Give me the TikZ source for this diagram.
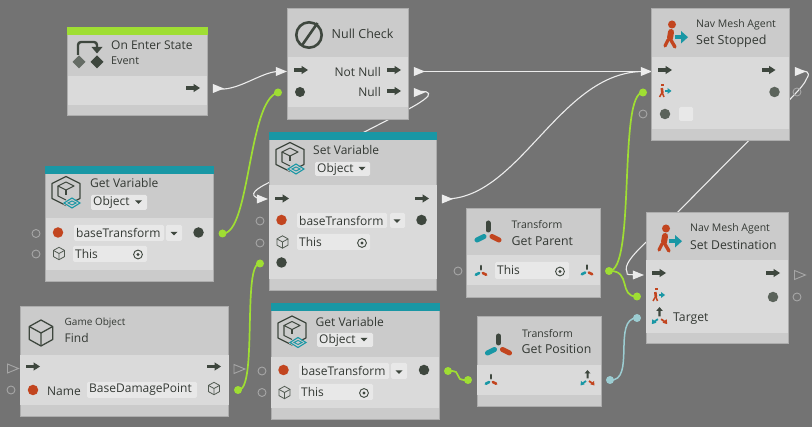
\documentclass[tikz,border=0pt]{standalone}
\usepackage{fontspec}
\setmainfont{Open Sans}
\usetikzlibrary{fit,shapes.geometric}
\definecolor{bgc}{HTML}{737373}
\definecolor{headc}{HTML}{CBCBCB}
\definecolor{bodyc}{HTML}{DADADA}
\definecolor{edgec}{HTML}{ADADAD}
\definecolor{fieldc}{HTML}{E8E8E8}
\definecolor{limec}{HTML}{9FDE33}
\definecolor{tealc}{HTML}{1997A5}
\definecolor{darkc}{HTML}{3E473E}
\definecolor{redc}{HTML}{C2451F}
\definecolor{wirec}{HTML}{ECECEC}
\definecolor{txtc}{HTML}{333833}
\definecolor{hollowc}{HTML}{A6A6A6}
\definecolor{mixc}{HTML}{9CCDD2}
\tikzset{
  x=1pt,y=-1pt,
  gbox/.style={draw=edgec,line width=1pt,fill=headc,inner sep=0pt},
  fieldbox/.style={fill=fieldc,draw=none,rounded corners=1.5pt,inner sep=0pt},
  lbl/.style={anchor=west,inner sep=0pt,text=txtc},
  wire/.style={draw=wirec,line width=1.1pt},
  limewire/.style={draw=limec,line width=1.7pt},
  tealwire/.style={draw=mixc,line width=1.5pt},
  tri/.style={isosceles triangle,isosceles triangle apex angle=75,isosceles triangle stretches,inner sep=0pt,minimum width=9pt,minimum height=11pt},
  tron/.style={tri,fill=wirec},
  troff/.style={tri,draw=hollowc,line width=.9pt,fill=none},
  dot/.style={circle,inner sep=0pt,minimum size=8pt,fill=#1},
  holl/.style={circle,inner sep=0pt,minimum size=8pt,draw=hollowc,line width=.9pt,fill=none},
  sock/.style={circle,inner sep=0pt,minimum size=10.5pt,fill=#1},
  pics/ctl/.style={code={
    \fill[darkc] (-7,-1.8) rectangle (1,1.8);
    \fill[darkc] (0.5,-4.2) -- (7,0) -- (0.5,4.2) -- cycle;
  }},
  pics/cubeic/.style={code={
    \draw[#1,line join=round] (0,-10) -- (9,-5) -- (9,5) -- (0,10) -- (-9,5) -- (-9,-5) -- cycle;
    \draw[#1,line join=round] (-9,-5) -- (0,0) -- (9,-5) (0,0) -- (0,10);
  }},
  pics/varic/.style={code={
    \draw[darkc,line width=1.3pt,line join=round] (0,-14.5) -- (14,-7.5) -- (14,7.5) -- (0,14.5) -- (-14,7.5) -- (-14,-7.5) -- cycle;
    \draw[darkc,line width=1.1pt,line join=round] (0,-9) -- (8,-5) -- (0,-1) -- (-8,-5) -- cycle;
    \draw[darkc,line width=1.1pt,line join=round] (-8,-5) -- (-8,5) -- (0,9);
    \draw[darkc,line width=1.1pt] (0,-1) -- (0,4);
    \fill[headc] (6,8) -- (15,13) -- (6,18) -- (-3,13) -- cycle;
    \draw[tealc,line width=1.1pt] (6,7) -- (14,12) -- (6,17) -- (-2,12) -- cycle;
    \draw[tealc,line width=.9pt] (6,10) -- (10,12) -- (6,14) -- (2,12) -- cycle;
  }},
  pics/xfm/.style={code={
    \draw[darkc,line width=2.6pt,line cap=round] (0,-5) -- (0,-1.6);
    \draw[tealc,line width=2.6pt,line cap=round] (-1.8,2) -- (-5.2,3.8);
    \draw[redc,line width=2.6pt,line cap=round] (1.8,2) -- (5.2,3.8);
  }},
  pics/xfmbig/.style={code={
    \draw[darkc,line width=5pt,line cap=round] (0,-11) -- (0,-4);
    \draw[tealc,line width=5pt,line cap=round] (-4,2.5) -- (-11,6);
    \draw[redc,line width=5pt,line cap=round] (4,2.5) -- (11,6);
  }},
  pics/xfmout/.style={code={
    \fill[darkc] (-3,-6) -- (0,-9.5) -- (3,-6) -- (1,-6) -- (1,-1) -- (-1,-1) -- (-1,-6) -- cycle;
    \draw[tealc,line width=1.8pt] (-1.5,1.5) -- (-5,4);
    \fill[tealc] (-7,6) -- (-6.5,1.5) -- (-2.8,4.8) -- cycle;
    \draw[redc,line width=1.8pt] (1.5,1.5) -- (5,4);
    \fill[redc] (7,6) -- (6.5,1.5) -- (2.8,4.8) -- cycle;
  }},
  pics/walk/.style={code={
    \fill[redc] (2,-10.5) circle (4);
    \draw[redc,line width=6pt,line cap=round] (1,-3) -- (0,3);
    \draw[redc,line width=3.4pt,line cap=round] (0,3.5) -- (5,12);
    \draw[redc,line width=3.2pt,line cap=round] (-2,5) -- (-5,11);
    \fill[tealc] (5,0) rectangle (11.5,4.5);
    \fill[tealc] (11,-4) -- (18,2.2) -- (11,8.5) -- cycle;
  }},
  pics/walksm/.style={code={
    \fill[redc] (-3,-7) rectangle (0,-5);
    \draw[redc,line width=2.6pt] (-2.2,-3) -- (-1.6,2);
    \draw[redc,line width=1.5pt] (-1.6,2) -- (0,6);
    \draw[redc,line width=1.5pt] (-2.2,2) -- (-4.5,6);
    \fill[tealc] (1,-1.2) rectangle (4,1);
    \fill[tealc] (3.5,-3) -- (7.5,0) -- (3.5,3) -- cycle;
  }},
  pics/targ/.style={code={
    \draw[darkc,line width=.9pt] (0,0) circle (4.4);
    \fill[darkc] (0,0) circle (1.7);
  }},
  pics/drop/.style={code={\fill[darkc] (-3.5,-1.6) -- (3.5,-1.6) -- (0,2) -- cycle;}},
  pics/nullic/.style={code={
    \draw[darkc,line width=2.6pt] (0,0) circle (12.7);
    \draw[darkc,line width=2.6pt] (8.5,-12) -- (-7.5,11);
  }},
  pics/enteric/.style={code={
    \draw[darkc,line width=2.4pt,rounded corners=3pt] (-18,-7) -- (-18,-20) -- (1,-20) -- (1,-14);
    \fill[darkc] (-4.5,-15) -- (6.5,-15) -- (1,-8.5) -- cycle;
    \fill[darkc!80] (-17,-6.5) -- (-10.5,0) -- (-17,6.5) -- (-23.5,0) -- cycle;
    \fill[darkc] (1,-6.5) -- (7.5,0) -- (1,6.5) -- (-5.5,0) -- cycle;
  }},
}
\newcommand{\gbody}[8]{%
  \node[gbox,fit={(#2,#3)(#4,#5)}] (#1) {};
  \fill[bodyc] (#2,#6) rectangle (#4,#7);
  \ifx\relax#8\relax\else\fill[#8] (#2-.5,#3-.5) rectangle (#4+.5,#3+7.5);\fi
}
\newcommand{\lab}[5]{\node[lbl,font=\fontsize{#4}{#4}\selectfont] (#1) at (#2,#3) {#5};}
\newcommand{\fld}[6]{%
  \node[fieldbox,fit={(#2,#3)(#4,#5)}] (#1) {};
  \node[lbl,font=\fontsize{12}{12}\selectfont] (#1t) at (#2+2,{(#3+#5)/2}) {#6};
}
\begin{document}
\begin{tikzpicture}
\useasboundingbox (0,0) rectangle (812,427);
\fill[bgc] (0,0) rectangle (812,427);
% ports that carry wires
\node[tron] (oeout) at (216,88.5) {};
\node[tron] (ncin) at (279,71.5) {};
\node[tron] (ncnn) at (417,71.5) {};
\node[tron] (ncn) at (417,92.5) {};
\node[tron] (svin) at (260,199) {};
\node[tron] (svout) at (445,199) {};
\node[tron] (ssin) at (644,71.5) {};
\node[tron] (ssout) at (798,71.5) {};
\node[tron] (sdin) at (636,275) {};
\node[dot=limec] (gv1d) at (222.5,233.5) {};
\node[dot=limec] (ncd) at (278,92.5) {};
\node[dot=limec] (fdd) at (238,390) {};
\node[dot=limec] (svd) at (260,263.5) {};
\node[dot=limec] (gpo) at (609,271) {};
\node[dot=limec] (ssd) at (643,92.5) {};
\node[dot=limec] (sdd) at (637,296.5) {};
\node[dot=limec] (gv2d) at (448,371) {};
\node[dot=limec] (gpi) at (468,380) {};
\node[dot=mixc] (gpso) at (610,380) {};
\node[dot=mixc] (sdt) at (637,318) {};
% wire way points
\coordinate (w1) at (428,96);
\coordinate (w2) at (268,183);
\coordinate (w3) at (807,78);
\coordinate (w4) at (677,213);
\coordinate (w5) at (627,272);
% wires
\draw[wire] (oeout.center) .. controls (236,93) and (262,71) .. (ncin.center);
\draw[wire] (ncnn.center) -- (ssin.center);
\draw[wire] (svout.center) .. controls (520,199) and (560,71) .. (ssin.center);
\draw[wire] (ncn.center) .. controls (424,90) and (431,92) .. (w1) .. controls (420,106) and (380,122) .. (w2) .. controls (258,188) and (246,195) .. (svin.center);
\draw[wire] (ssout.center) .. controls (806,70) and (811,72) .. (w3) .. controls (802,90) and (790,98) .. (w4) .. controls (660,232) and (620,260) .. (w5) .. controls (626,276) and (630,274) .. (sdin.center);
\draw[limewire] (gv1d.center) .. controls (250,235) and (248,100) .. (ncd.center);
\draw[limewire] (fdd.center) .. controls (258,392) and (242,262) .. (svd.center);
\draw[limewire] (gpo.center) .. controls (636,272) and (618,92) .. (ssd.center);
\draw[limewire] (gpo.center) .. controls (632,270) and (618,297) .. (sdd.center);
\draw[limewire] (gv2d.center) .. controls (466,370) and (450,381) .. (gpi.center);
\draw[tealwire] (gpso.center) .. controls (636,382) and (612,318) .. (sdt.center);
% unconnected ports
\node[troff] (fdin) at (10.5,368.5) {};
\node[troff] (fdout) at (237,369) {};
\node[troff] (sdout) at (797.5,275) {};
\node[holl] (h1) at (36,233.5) {};
\node[holl] (h2) at (36,254) {};
\node[holl] (h3) at (260,221) {};
\node[holl] (h4) at (260,243) {};
\node[holl] (h5) at (262,371) {};
\node[holl] (h6) at (262,392.5) {};
\node[holl] (h7) at (11,390) {};
\node[holl] (h8) at (458,271) {};
\node[holl] (h9) at (643,114) {};
\node[holl] (h10) at (797,92) {};
\node[holl] (h11) at (797,297) {};
% boxes
\gbody{oe}{67.5}{28}{207}{116}{76}{105}{limec}
\gbody{nc}{287.5}{9}{408}{120}{57}{107}{}
\gbody{ss}{651.5}{9}{789}{141}{57}{129}{}
\gbody{sv}{269}{133}{436.5}{291}{185}{279}{tealc}
\gbody{gv}{45.5}{167}{213}{282}{218}{270}{tealc}
\gbody{fd}{20}{307}{228.5}{417}{355}{405}{}
\gbody{gw}{271}{304}{439}{420}{357}{408}{tealc}
\gbody{gp}{466.5}{209}{600}{298}{255}{285}{}
\gbody{gs}{477}{317}{601}{407}{365}{395}{}
\gbody{sd}{646}{213}{788}{344}{260}{333}{}
% On Enter State
\path (96,62) pic {enteric};
\lab{t1}{111}{45.5}{12}{On Enter State}
\lab{t2}{111}{61}{10.8}{Event}
\path (193,88) pic {ctl};
% Null Check
\path (309,35) pic {nullic};
\lab{t3}{331.5}{34}{12.5}{Null Check}
\path (301,70) pic {ctl};
\path (394,70) pic {ctl};
\path (394,91) pic {ctl};
\node[dot=darkc,minimum size=10pt] (ncp) at (300,92) {};
\node[lbl,anchor=east,font=\fontsize{12}{12}\selectfont] (t4) at (381,72.5) {Not Null};
\node[lbl,anchor=east,font=\fontsize{12}{12}\selectfont] (t5) at (381,92.5) {Null};
% Get Variable 1
\path (66,191) pic {varic};
\lab{t6}{90}{183.5}{12}{Get Variable}
\fld{gvo}{91}{195}{147}{210}{Object}
\path (138.5,202) pic {drop};
\node[sock=redc] (gva) at (58,232.5) {};
\fld{gvf}{74}{225}{164}{241}{baseTransform}
\node[fieldbox,fit={(166,225)(182,241)}] (gvb) {};
\path (174,233.5) pic {drop};
\node[sock=darkc] (gvc) at (198.5,232.5) {};
\path (59,253.5) pic[scale=.62] {cubeic={darkc!90,line width=.8pt}};
\fld{gvh}{73}{246}{147}{262}{This}
\path (138,254.5) pic {targ};
% Set Variable
\path (290,157) pic {varic};
\lab{t7}{313}{150.5}{12}{Set Variable}
\fld{svo}{315}{162}{370}{176}{Object}
\path (362,168.5) pic {drop};
\path (282,198.5) pic {ctl};
\path (422,198.5) pic {ctl};
\node[sock=redc] (sva) at (281.5,220) {};
\fld{svf}{297}{213}{387}{228}{baseTransform}
\node[fieldbox,fit={(390,213)(405,228)}] (svb) {};
\path (397,221) pic {drop};
\node[sock=darkc] (svc) at (421.5,220) {};
\path (282.5,242) pic[scale=.62] {cubeic={darkc!90,line width=.8pt}};
\fld{svh}{297}{234}{370}{250}{This}
\path (362,243) pic {targ};
\node[sock=darkc] (svx) at (281.5,262.5) {};
% Game Object Find
\path (41,333) pic[scale=1.3] {cubeic={darkc,line width=1.3pt}};
\lab{t8}{64.5}{323}{10}{Game Object}
\lab{t9}{64.5}{338.5}{12}{Find}
\path (33,366.5) pic {ctl};
\path (214,366.5) pic {ctl};
\node[sock=redc] (fda) at (33,390) {};
\lab{t10}{47}{391}{12}{Name}
\fld{fdf}{87}{382}{197}{398}{BaseDamagePoint}
\path (214,388.5) pic[scale=.62] {cubeic={darkc!90,line width=.8pt}};
% Get Variable 2
\path (292,330.5) pic {varic};
\lab{t11}{315.5}{322}{12}{Get Variable}
\fld{gwo}{317}{333}{373}{347}{Object}
\path (364,339.5) pic {drop};
\node[sock=redc] (gwa) at (283.5,370) {};
\fld{gwf}{299}{363}{389}{379}{baseTransform}
\node[fieldbox,fit={(391,363)(407,379)}] (gwb) {};
\path (399,372) pic {drop};
\node[sock=darkc] (gwc) at (424,370) {};
\path (284.5,392.5) pic[scale=.62] {cubeic={darkc!90,line width=.8pt}};
\fld{gwh}{299}{384}{373}{400}{This}
\path (364,393) pic {targ};
% Get Parent
\path (488,234) pic {xfmbig};
\lab{t12}{511.5}{225}{10.5}{Transform}
\lab{t13}{511.5}{241.5}{12.3}{Get Parent}
\path (481,271) pic {xfm};
\fld{gpf}{495}{262}{569}{279}{This}
\path (560,271.5) pic {targ};
\path (587,270.5) pic {xfm};
% Get Position
\path (498.5,347) pic {xfmbig};
\lab{t14}{522}{333.5}{10.5}{Transform}
\lab{t15}{521.5}{349.5}{12.3}{Get Position}
\path (491,380) pic {xfm};
\path (587.5,379.5) pic {xfmout};
% Set Stopped
\path (670,35) pic {walk};
\lab{t16}{696}{24.5}{10.5}{Nav Mesh Agent}
\lab{t17}{696}{41.5}{12.5}{Set Stopped}
\path (665,70) pic {ctl};
\path (768.5,70) pic {ctl};
\path (664,91) pic {walksm};
\node[sock=darkc!85] (ssa) at (774.5,92) {};
\node[sock=darkc!85] (ssb) at (665,114) {};
\node[fieldbox,fit={(679,107)(693,121)}] (ssf) {};
% Set Destination
\path (664,239) pic {walk};
\lab{t18}{690}{229}{10.5}{Nav Mesh Agent}
\lab{t19}{690}{245.5}{12.2}{Set Destination}
\path (659,273) pic {ctl};
\path (773,273) pic {ctl};
\path (657.5,295) pic {walksm};
\node[sock=darkc!85] (sda) at (773,297) {};
\path (659.5,317.5) pic[scale=1.1] {xfmout};
\lab{t20}{673}{319}{12.2}{Target}
\end{tikzpicture}
\end{document}
